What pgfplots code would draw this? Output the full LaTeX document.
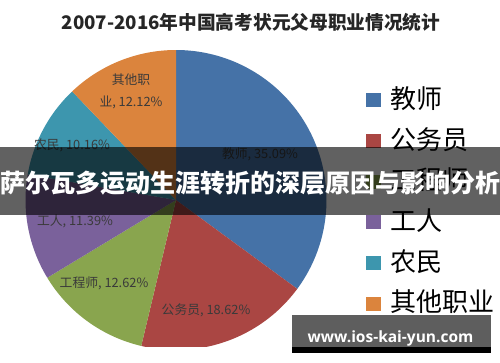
\documentclass[border=0pt]{standalone}
\usepackage{pgfplots}
\pgfplotsset{compat=1.18}
\usepackage{fontspec}
\setmainfont{Noto Sans CJK SC}
\newfontfamily\cjk{Noto Sans CJK SC}
\newfontfamily\wm{Open Sans}
\definecolor{cBlue}{HTML}{4572A7}
\definecolor{cRed}{HTML}{AA4643}
\definecolor{cGreen}{HTML}{89A54E}
\definecolor{cPurple}{HTML}{7A619B}
\definecolor{cTeal}{HTML}{3D96AE}
\definecolor{cOrange}{HTML}{DB843D}
\definecolor{lbl}{HTML}{3A3A3A}
% shares in percent
\def\vA{35.09}% 教师
\def\vB{18.62}% 公务员
\def\vC{12.62}% 工程师
\def\vD{11.39}% 工人
\def\vE{10.16}% 农民
\def\vF{12.12}% 其他职业
\begin{document}
\begin{tikzpicture}[x=1pt,y=1pt]
\fill[white] (0,0) rectangle (500,362);
\pgfmathsetmacro\aA{90}
\pgfmathsetmacro\aB{\aA-3.6*\vA}
\pgfmathsetmacro\aC{\aB-3.6*\vB}
\pgfmathsetmacro\aD{\aC-3.6*\vC}
\pgfmathsetmacro\aE{\aD-3.6*\vD}
\pgfmathsetmacro\aF{\aE-3.6*\vE}
\pgfmathsetmacro\aG{\aF-3.6*\vF}
\begin{axis}[at={(176pt,162pt)}, anchor=center,
  width=301pt, height=300pt, scale only axis,
  xmin=-1, xmax=1, ymin=-1, ymax=1, hide axis, clip=false,
  legend style={at={(axis description cs:1.131,0.873)}, anchor=north west,
    draw=none, fill=none, inner sep=0pt, row sep=14.7pt,
    font=\cjk\fontsize{26}{26}\selectfont, cells={anchor=west},
    nodes={inner sep=0pt, text height=20pt, text depth=6pt}},
  legend image code/.code={\fill[#1,draw=none] (0pt,-6pt) rectangle (15pt,8pt);},
  legend cell align=left]
\addplot[fill=cBlue, draw=none, domain=\aB:\aA, samples=80, variable=\t] ({cos(\t)},{sin(\t)}) -- (axis cs:0,0) -- cycle;
\addlegendentry{\hspace{9pt}教师}
\addplot[fill=cRed, draw=none, domain=\aC:\aB, samples=60, variable=\t] ({cos(\t)},{sin(\t)}) -- (axis cs:0,0) -- cycle;
\addlegendentry{\hspace{9pt}公务员}
\addplot[fill=cGreen, draw=none, domain=\aD:\aC, samples=50, variable=\t] ({cos(\t)},{sin(\t)}) -- (axis cs:0,0) -- cycle;
\addlegendentry{\hspace{9pt}工程师}
\addplot[fill=cPurple, draw=none, domain=\aE:\aD, samples=50, variable=\t] ({cos(\t)},{sin(\t)}) -- (axis cs:0,0) -- cycle;
\addlegendentry{\hspace{9pt}工人}
\addplot[fill=cTeal, draw=none, domain=\aF:\aE, samples=50, variable=\t] ({cos(\t)},{sin(\t)}) -- (axis cs:0,0) -- cycle;
\addlegendentry{\hspace{9pt}农民}
\addplot[fill=cOrange, draw=none, domain=\aG:\aF, samples=50, variable=\t] ({cos(\t)},{sin(\t)}) -- (axis cs:0,0) -- cycle;
\addlegendentry{\hspace{9pt}其他职业}
\end{axis}
% slice labels
\begin{scope}[every node/.style={text=lbl, font=\cjk\fontsize{12.8}{12.8}\selectfont, inner sep=0pt}]
\node at (260,208) {教师, 35.09\%};
\node at (206,52) {公务员, 18.62\%};
\node at (104,79) {工程师, 12.62\%};
\node at (75,141) {工人, 11.39\%};
\node at (72,217) {农民, 10.16\%};
\node at (131,282) {其他职};
\node at (131,260) {业, 12.12\%};
\end{scope}
% title
\node[font=\cjk\bfseries\fontsize{18.7}{18.7}\selectfont, text=black!85] at (251,340) {2007-2016年中国高考状元父母职业情况统计};
% crop at bottom
\fill[white] (0,0) rectangle (500,15);
% banner
\fill[black, opacity=0.62] (0,147) rectangle (500,215);
\node[font=\cjk\bfseries\fontsize{25}{25}\selectfont, text=white, inner sep=0pt] at (250,179) {萨尔瓦多运动生涯转折的深层原因与影响分析};
% watermark
\fill[black!63] (292,15) rectangle (491,47);
\fill[black] (292,9) rectangle (491,15);
\node[font=\wm\bfseries\fontsize{15.5}{15.5}\selectfont, text=white, anchor=base, inner sep=0pt] at (390.5,20) {www.ios-kai-yun.com};
\end{tikzpicture}
\end{document}
